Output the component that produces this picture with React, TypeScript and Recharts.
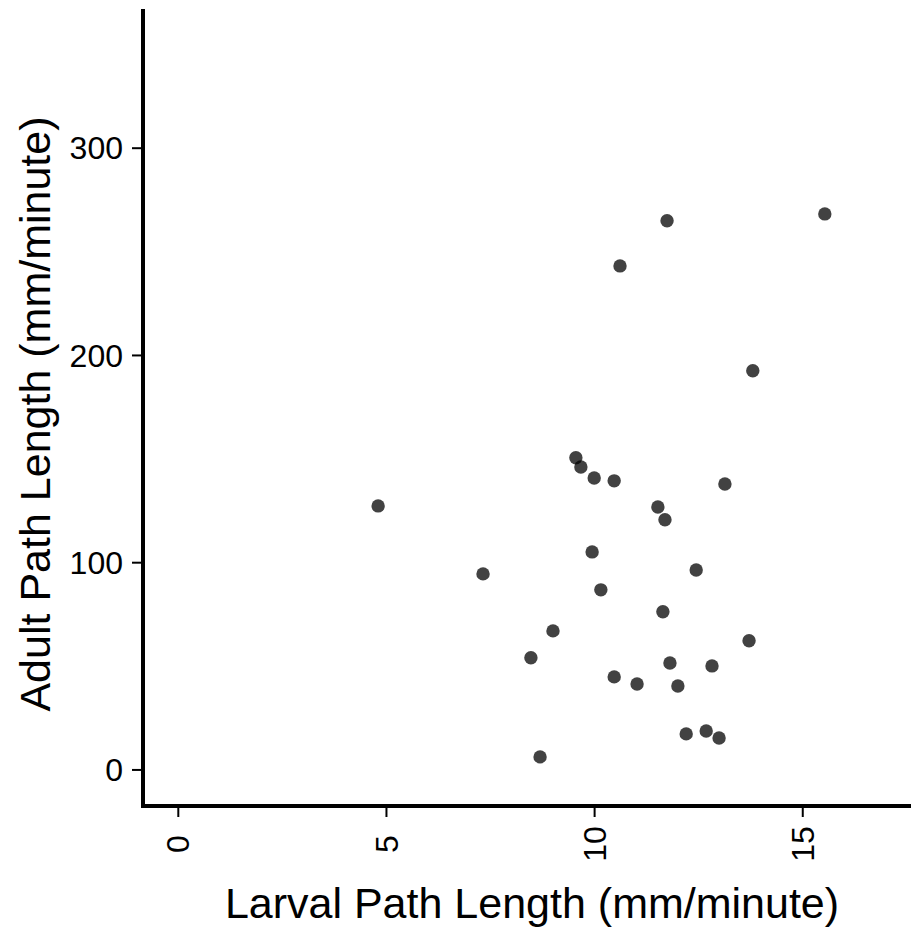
import { ScatterChart, Scatter, XAxis, YAxis, Label } from 'recharts';

// larval vs adult path length, one point per individual
const larvalPath = [
  4.8, 7.32, 8.69, 8.47, 9.0, 9.55, 9.67, 9.99, 10.47, 9.94,
  10.15, 10.47, 11.02, 10.61, 11.74, 11.52, 11.69, 11.64, 11.81, 12.0,
  12.2, 12.68, 12.99, 12.82, 12.44, 13.13, 13.71, 13.8, 15.53,
];
const adultPath = [
  127.4, 94.6, 6.3, 54.1, 67.1, 150.6, 146.2, 140.9, 139.5, 105.2,
  86.9, 44.9, 41.5, 243.2, 265.0, 126.9, 120.7, 76.3, 51.6, 40.5,
  17.4, 18.8, 15.4, 50.2, 96.5, 138.0, 62.3, 192.6, 268.3,
];
const xTicks = [0, 5, 10, 15];
const yTicks = [0, 100, 200, 300];

const font = '"Liberation Sans", Arial, sans-serif';

const points = larvalPath.map((x, i) => ({ larval: x, adult: adultPath[i] }));

function XTick(props: any) {
  const { x, y, payload } = props;
  return (
    <text
      x={x}
      y={y}
      dy="0.35em"
      transform={`rotate(-90, ${x}, ${y})`}
      textAnchor="middle"
      fontSize={32}
      fontFamily={font}
      fill="#000"
    >
      {payload.value}
    </text>
  );
}

function YTick(props: any) {
  const { x, y, payload } = props;
  return (
    <text x={x} y={y} dy="0.35em" textAnchor="end" fontSize={32} fontFamily={font} fill="#000">
      {payload.value}
    </text>
  );
}

function Dot(props: any) {
  return <circle cx={props.cx} cy={props.cy} r={6.7} fill="#000" fillOpacity={0.74} />;
}

export default function App() {
  const axisLine = { stroke: '#000', strokeWidth: 4, strokeLinecap: 'square' as const };
  const tickLine = { stroke: '#000', strokeWidth: 2 };

  return (
    <div style={{ position: 'absolute', left: 0, top: 0, background: '#fff' }}>
      <ScatterChart width={911} height={930} margin={{ top: 11, right: 0, bottom: 0, left: 0 }}>
        <XAxis
          type="number"
          dataKey="larval"
          domain={[-0.848, 17.6]}
          ticks={xTicks}
          allowDataOverflow
          height={124}
          axisLine={axisLine}
          tickLine={tickLine}
          tickSize={11}
          tickMargin={27}
          tick={<XTick />}
          interval={0}
        >
          <Label
            content={() => (
              <text x={532} y={918} textAnchor="middle" fontSize={43} fontFamily={font} fill="#000">
                Larval Path Length (mm/minute)
              </text>
            )}
          />
        </XAxis>
        <YAxis
          type="number"
          dataKey="adult"
          domain={[-17.4, 366.2]}
          ticks={yTicks}
          allowDataOverflow
          width={143}
          axisLine={axisLine}
          tickLine={tickLine}
          tickSize={11}
          tickMargin={9}
          tick={<YTick />}
          interval={0}
        >
          <Label
            content={() => (
              <text
                x={50}
                y={414}
                transform="rotate(-90, 50, 414)"
                textAnchor="middle"
                fontSize={43}
                fontFamily={font}
                fill="#000"
              >
                Adult Path Length (mm/minute)
              </text>
            )}
          />
        </YAxis>
        <Scatter data={points} shape={<Dot />} isAnimationActive={false} />
      </ScatterChart>
    </div>
  );
}
